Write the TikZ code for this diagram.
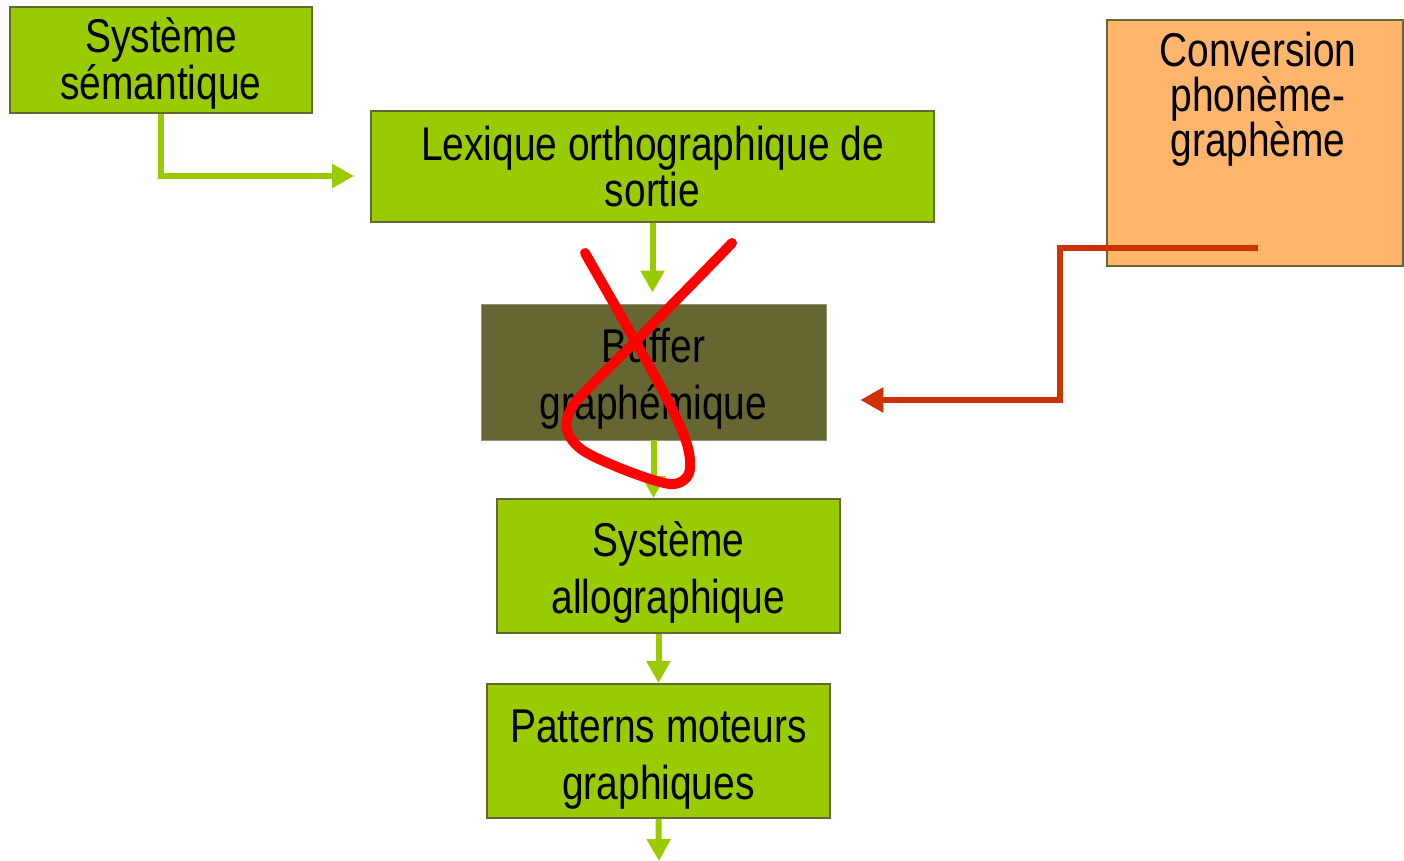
\documentclass[tikz,border=0pt]{standalone}
\usepackage{fontspec}
\setmainfont[FakeStretch=0.82]{Liberation Sans}
\usetikzlibrary{arrows.meta}
\definecolor{vert}{HTML}{99CC00}
\definecolor{olive}{HTML}{666633}
\definecolor{orange}{HTML}{FFB56B}
\definecolor{brique}{HTML}{CC3300}
\tikzset{
  boite/.style={draw=olive,line width=1.1pt,fill=vert,inner sep=0pt,align=center,
    font=\fontsize{27}{25}\selectfont},
  haut/.style={font=\fontsize{27}{32.4}\selectfont},
  fleche/.style={line width=0.12cm,vert,-{Triangle[width=0.46cm,length=0.44cm]}},
  rouge/.style={line width=0.13cm,brique,-{Triangle[width=0.48cm,length=0.46cm]}}
}
\begin{document}
\begin{tikzpicture}[x=0.02cm,y=-0.02cm,line join=miter]
        \useasboundingbox (0,0) rectangle (1404,861);
        \node[boite,font=\fontsize{27}{23.8}\selectfont,minimum width=302*0.02cm,minimum height=106*0.02cm] (sem) at (161,60) {\rule{0pt}{0.84cm}Système\\sémantique};
        \node[boite,minimum width=563*0.02cm,minimum height=111*0.02cm] (lex) at (652.5,166.5) {Lexique orthographique de\\sortie};
        \node[boite,haut,draw=olive!70!white,line width=0.5pt,fill=olive,minimum width=345*0.02cm,minimum height=136*0.02cm] (buf) at (653.5,372) {\rule{0pt}{0.97cm}Buffer\\graphémique};
        \node[boite,haut,minimum width=343*0.02cm,minimum height=134*0.02cm] (allo) at (668.5,566) {\rule{0pt}{0.95cm}Système\\allographique};
        \node[boite,haut,minimum width=343*0.02cm,minimum height=134*0.02cm] (pat) at (658.5,751) {\rule{0pt}{1.0cm}Patterns moteurs\\graphiques};
        \node[boite,fill=orange,minimum width=296*0.02cm,minimum height=246*0.02cm] (conv) at (1255,143) {};
        \node[align=center,inner sep=0pt,anchor=north,font=\fontsize{27}{25.5}\selectfont] (convtxt) at (1258,32) {Conversion\\phonème-\\graphème};
        \coordinate (cv) at (1258,248);
        \coordinate (fin) at (659,861);

        % fleches vertes
        \draw[fleche,shorten >=0.32cm] (sem.south) |- ([yshift=-0.19cm]lex.west);
        \draw[fleche,shorten >=0.22cm] (lex.south) -- (lex.south |- buf.north);
        \draw[fleche] (buf.south) -- (buf.south |- allo.north);
        \draw[fleche] (pat.north |- allo.south) -- (pat.north);
        \draw[fleche] (pat.south) -- (fin);
        % voie phonologique
        \draw[rouge,shorten >=0.68cm] (cv) -- ++(-198,0) |- ([yshift=-0.56cm]buf.east);
        % croix
        \draw[red,line width=0.2cm,line cap=round,line join=round] plot[smooth,tension=0.55] coordinates {(585,253) (657,380) (683,433) (690,460) (687,477) (670,484) (630,472) (587,453) (570,437) (567,420) (580,397) (637,340) (703,273) (732,243)};
\end{tikzpicture}
\end{document}
